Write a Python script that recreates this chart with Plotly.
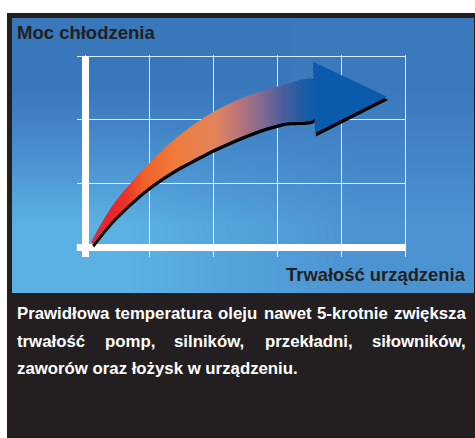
import plotly.graph_objects as go

W, H = 475, 438

# ---- chart data (chart units: x = 5 columns, y = 3 rows) ----
x_range = [-0.14, 5.02]
y_range = [-0.15, 3.02]

# curved arrow: shaft edges and head
upper_x = [0.09, 0.26, 0.46, 0.70, 0.96, 1.24, 1.56, 1.98, 2.50, 3.04, 3.60]
upper_y = [0.09, 0.40, 0.71, 1.00, 1.28, 1.56, 1.83, 2.11, 2.36, 2.53, 2.62]
lower_x = [0.12, 0.35, 0.62, 0.96, 1.32, 1.71, 2.11, 2.58, 3.09, 3.60]
lower_y = [0.05, 0.34, 0.62, 0.92, 1.17, 1.39, 1.59, 1.79, 1.95, 2.03]
head_x = [3.56, 4.72, 3.59]
head_y = [2.91, 2.36, 1.79]

arrow_colors = [
    [0.00, "#d8304c"], [0.06, "#e8232a"], [0.12, "#ec3427"], [0.18, "#f0622a"],
    [0.28, "#f07a3a"], [0.42, "#e2845c"], [0.50, "#b8737a"], [0.58, "#7e6a92"],
    [0.65, "#4a5e9c"], [0.72, "#1b5ba6"], [0.77, "#0a5aab"], [1.00, "#0a5cab"],
]

# background panel gradient (corner levels)
bg_x_edges = [12, 243, 474]
bg_y_edges = [18, 155.5, 293]
bg_levels = [[0.0, 0.05], [1.0, 0.55]]
bg_colors = [[0.0, "#3877ba"], [0.5, "#4a90cf"], [1.0, "#5bb1e3"]]

title_y = "Moc chłodzenia"
title_x = "Trwałość urządzenia"
line1_words = ["Prawidłowa", "temperatura", "oleju", "nawet", "5-krotnie", "zwiększa"]
line2_words = ["trwałość", "pomp,", "silników,", "przekładni,", "siłowników,"]
line3_text = "zaworów oraz łożysk w urządzeniu."

DARK = "#231f20"
FONT = "Liberation Sans, Arial, Helvetica, sans-serif"

# Arial/Liberation Sans Bold advance widths (1/1000 em) for justification
ADV = {" ": 278, "P": 667, "r": 389, "a": 556, "w": 778, "i": 278, "d": 611,
       "ł": 278, "o": 611, "t": 333, "e": 556, "m": 889, "p": 611, "u": 611,
       "l": 278, "j": 278, "n": 611, "5": 556, "-": 333, "k": 556, "z": 500,
       "ę": 556, "s": 556, "ś": 556, "ć": 556, ",": 278, "ó": 611, "ż": 500,
       "y": 556, "ą": 556, ".": 278}

def text_w(s, fs):
    return sum(ADV.get(c, 556) for c in s) * fs / 1000.0

# ---- pixel geometry helpers ----
def px_x(p):
    return p / W

def px_y(p):
    return 1 - p / H

ux = 63.9
uy = 63.83
x0_px = 85.5
y0_px = 247.5
dom_x = [px_x(x0_px + x_range[0] * ux), px_x(x0_px + x_range[1] * ux)]
dom_y = [px_y(y0_px - y_range[0] * uy), px_y(y0_px - y_range[1] * uy)]

fig = go.Figure()

# background gradient on full-figure pixel axes
fig.add_trace(go.Heatmap(
    x=bg_x_edges, y=bg_y_edges, z=bg_levels, zsmooth="best",
    colorscale=bg_colors, zmin=0, zmax=1, showscale=False,
    hoverinfo="skip", xaxis="x", yaxis="y",
))

# arrow shadow
sdx, sdy = 1.0 / ux, -3.2 / uy
shaft_x = upper_x + lower_x[::-1]
shaft_y = upper_y + lower_y[::-1]
fig.add_trace(go.Scatter(
    x=[v + sdx for v in shaft_x], y=[v + sdy for v in shaft_y],
    mode="lines", line=dict(width=0, shape="spline", smoothing=1),
    fill="toself", fillcolor="#000000", hoverinfo="skip",
    xaxis="x2", yaxis="y2",
))
fig.add_trace(go.Scatter(
    x=[v + sdx for v in head_x], y=[v + sdy for v in head_y],
    mode="lines", line=dict(width=0), fill="toself", fillcolor="#000000",
    hoverinfo="skip", xaxis="x2", yaxis="y2",
))

grad = dict(type="horizontal", colorscale=arrow_colors,
            start=upper_x[0], stop=max(head_x))
fig.add_trace(go.Scatter(
    x=shaft_x, y=shaft_y, mode="lines",
    line=dict(width=0, shape="spline", smoothing=1),
    fill="toself", fillgradient=grad, hoverinfo="skip",
    xaxis="x2", yaxis="y2",
))
fig.add_trace(go.Scatter(
    x=head_x, y=head_y, mode="lines", line=dict(width=0),
    fill="toself", fillgradient=grad, hoverinfo="skip",
    xaxis="x2", yaxis="y2",
))

shapes = [
    dict(type="rect", xref="paper", yref="paper", x0=px_x(7), x1=1.0,
         y0=0, y1=px_y(13), fillcolor=DARK, line=dict(width=0), layer="below"),
    dict(type="rect", xref="x2", yref="y2", x0=-0.055, x1=0.055,
         y0=y_range[0], y1=3.0, fillcolor="white", line=dict(width=0), layer="between"),
    dict(type="rect", xref="x2", yref="y2", x0=x_range[0], x1=x_range[1],
         y0=-0.055, y1=0.055, fillcolor="white", line=dict(width=0), layer="between"),
]

ann = []
def add_text(text, x, y, anchor, size, color):
    ann.append(dict(text=text, xref="paper", yref="paper", x=px_x(x), y=px_y(y),
                    xanchor=anchor, yanchor="middle", showarrow=False,
                    borderpad=0, borderwidth=0,
                    font=dict(family=FONT, size=size, color=color, weight="bold")))

add_text(title_y, 17, 33, "left", 18.5, DARK)
add_text(title_x, 466, 274, "right", 18.4, DARK)

PS = 16.8
LEFT, RIGHT = 17, 466

def justify(words, yc):
    widths = [text_w(w, PS) for w in words]
    gap = (RIGHT - LEFT - sum(widths)) / (len(words) - 1)
    x = LEFT
    for w, wd in zip(words, widths):
        add_text(w, x, yc, "left", PS, "white")
        x += wd + gap

justify(line1_words, 313)
justify(line2_words, 341)
add_text(line3_text, LEFT, 368, "left", PS, "white")

fig.update_layout(
    width=W, height=H, autosize=False,
    margin=dict(l=0, r=0, t=0, b=0, pad=0),
    paper_bgcolor="white", plot_bgcolor="rgba(0,0,0,0)",
    showlegend=False, shapes=shapes, annotations=ann,
    xaxis=dict(domain=[0, 1], range=[0, W], visible=False, fixedrange=True),
    yaxis=dict(domain=[0, 1], range=[H, 0], visible=False, fixedrange=True),
    xaxis2=dict(domain=dom_x, range=x_range, anchor="y2", tick0=0, dtick=1,
                showgrid=True, gridcolor="rgba(255,255,255,0.85)", gridwidth=1.3,
                zeroline=False, showline=False, showticklabels=False, ticks="",
                fixedrange=True),
    yaxis2=dict(domain=dom_y, range=y_range, anchor="x2", tick0=0, dtick=1,
                showgrid=True, gridcolor="rgba(255,255,255,0.85)", gridwidth=1.3,
                zeroline=False, showline=False, showticklabels=False, ticks="",
                fixedrange=True),
)

fig.write_html("out.html", config={"displayModeBar": False},
               post_script="document.body.style.margin='0';document.body.style.overflow='hidden';")
